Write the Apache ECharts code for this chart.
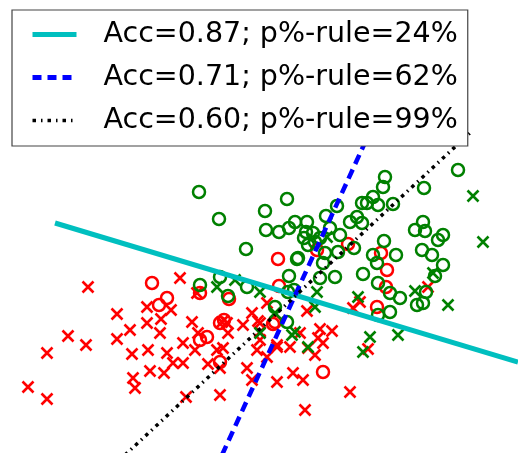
<!DOCTYPE html>
<html><head><meta charset="utf-8">
<script src="https://cdn.jsdelivr.net/npm/echarts@6/dist/echarts.min.js"></script>
<style>html,body{margin:0;padding:0;background:#fff}#c{width:518px;height:453px}</style>
</head><body><div id="c"></div>
<script>
// Point positions (plot units: x right, y down)
const greenCircles = [[199,192],[219,219],[246,249],[265,211],[287,199],[266,230],[279,232],[289,228],[295,222],[307,222],[306,232],[304,238],[308,245],[297,259],[313,233],[315,242],[320,238],[326,216],[337,206],[330,228],[340,235],[350,222],[357,217],[362,223],[362,203],[367,203],[373,197],[378,205],[393,204],[385,177],[383,187],[424,188],[458,170],[415,230],[423,222],[425,231],[443,235],[438,240],[384,241],[354,248],[422,250],[432,255],[443,265],[396,255],[373,255],[377,263],[363,274],[378,283],[390,293],[400,298],[426,292],[435,276],[335,277],[320,278],[289,276],[298,258],[325,253],[323,263],[338,252],[294,290],[288,292],[200,285],[220,277],[247,287],[228,296],[275,307],[287,322],[417,305],[423,303],[390,312],[378,315]];
const redCircles = [[152,283],[167,298],[159,305],[200,293],[229,299],[278,259],[279,286],[317,250],[348,244],[381,253],[387,270],[386,287],[377,307],[323,372],[273,324],[200,340],[207,337],[220,323],[224,320],[220,362],[275,322]];
const redCrosses = [[88,287],[180,278],[197,293],[147,307],[171,310],[117,314],[147,323],[161,319],[160,333],[130,330],[117,339],[68,336],[86,345],[47,353],[28,387],[47,399],[132,354],[148,350],[167,353],[173,363],[183,363],[150,371],[164,373],[133,378],[135,388],[183,343],[192,322],[198,333],[195,350],[208,364],[227,323],[228,333],[217,350],[223,348],[220,368],[243,325],[252,313],[258,321],[260,332],[257,350],[247,368],[252,380],[186,397],[220,395],[222,322],[277,347],[290,347],[260,340],[267,303],[307,311],[360,302],[353,308],[260,323],[300,333],[320,329],[332,331],[318,338],[323,343],[308,348],[315,355],[277,345],[267,357],[277,382],[293,373],[303,380],[350,392],[305,410],[368,349],[428,287]];
const greenCrosses = [[217,287],[235,280],[473,196],[483,242],[415,291],[433,273],[358,297],[317,292],[327,237],[260,292],[275,313],[295,332],[260,333],[315,307],[370,337],[398,335],[448,305],[363,352],[308,347],[292,335]];
// Decision boundaries (end points)
const lineCyan = [[55,223],[518,362]];
const lineBlue = [[222,455],[368,136]];
const lineBlack = [[125,455],[472,131]];
const legendNames = ['Acc=0.87; p%-rule=24%','Acc=0.71; p%-rule=62%','Acc=0.60; p%-rule=99%'];

const cross = 'path://M0,0L10,10M10,0L0,10';
function circ(data,color){return {type:'scatter',data,symbol:'circle',symbolSize:12,silent:true,
  itemStyle:{color:'rgba(0,0,0,0)',borderColor:color,borderWidth:2.5,opacity:1}};}
function crs(data,color){return {type:'scatter',data,symbol:cross,symbolSize:11,silent:true,
  itemStyle:{color:'none',borderColor:color,borderWidth:2.6,opacity:1}};}
function ln(name,data,color,w,type){return {type:'line',name,data,symbol:'none',silent:true,
  lineStyle:{color,width:w,type},itemStyle:{color:'rgba(0,0,0,0)',borderWidth:0,opacity:0},z:3};}

const chart = echarts.init(document.getElementById('c'),null,{renderer:'canvas'});
chart.setOption({
  animation:false,
  grid:{left:0,right:0,top:0,bottom:0},
  xAxis:{type:'value',min:0,max:518,show:false},
  yAxis:{type:'value',min:0,max:453,inverse:true,show:false},
  legend:{
    data:[
      {name:legendNames[0],lineStyle:{width:5}},
      {name:legendNames[1],lineStyle:{width:5,type:[9,6]}},
      {name:legendNames[2],lineStyle:{width:3.5,type:[3.5,5,1.5,5]}}
    ],
    orient:'vertical', left:12, top:10,
    itemWidth:44, itemHeight:30, itemGap:14,
    padding:[10,10,11,18],
    backgroundColor:'#fff', borderColor:'#444', borderWidth:1.2, borderRadius:0,
    itemStyle:{opacity:0},
    textStyle:{fontFamily:'DejaVu Sans',fontSize:28.5,color:'#000',padding:[0,0,0,22]},
    selectedMode:false, z:10
  },
  series:[
    crs(redCrosses,'#ff0000'),
    circ(redCircles,'#ff0000'),
    crs(greenCrosses,'#008000'),
    circ(greenCircles,'#008000'),
    ln(legendNames[0],lineCyan,'#00bfbf',5,'solid'),
    ln(legendNames[1],lineBlue,'#0000ff',4.5,[10,6]),
    ln(legendNames[2],lineBlack,'#000000',3.5,[3.5,4.5,1.5,4.5])
  ]
});
</script></body></html>
